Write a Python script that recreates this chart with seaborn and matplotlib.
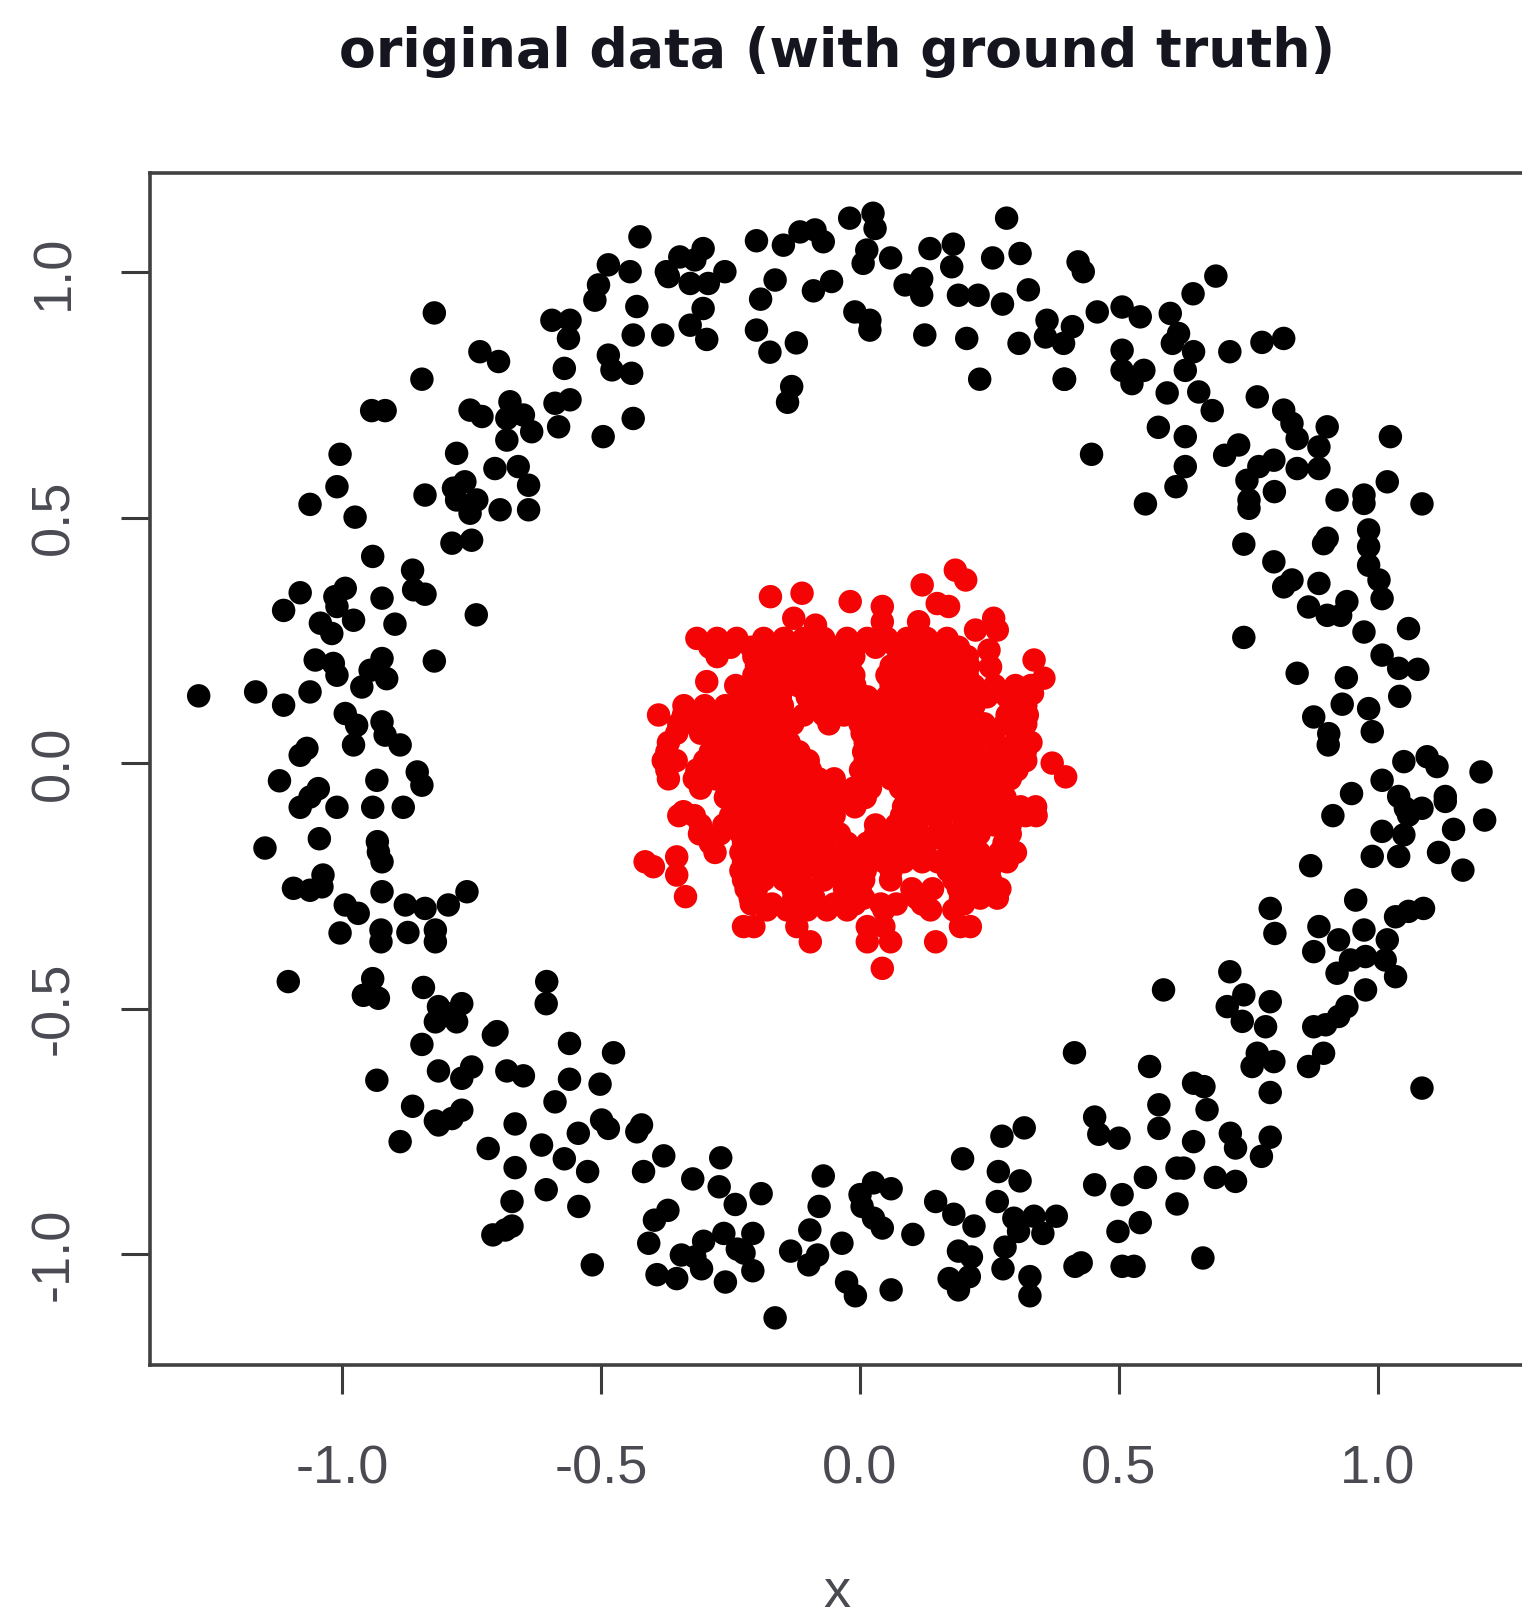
import matplotlib
matplotlib.use('Agg')
import matplotlib.pyplot as plt
import pandas as pd
import seaborn as sns

# outer ring
black_x = [-0.822, -0.846, -0.943, -0.917, -0.734, -0.698, -0.595, -0.560, -0.563, -0.571,
           -0.486, -0.505, -0.512, -0.444, -0.425, -0.431, -0.438, -0.486, -0.479, -0.441,
           -0.496, -0.438, -0.560, -0.589, -0.582, -0.676, -0.682, -0.650, -0.634, -0.682,
           -0.753, -0.730, -1.004, -0.779, -1.010, -1.062, -0.975, -0.840, -0.705, -0.660,
           -0.640, -0.640, -0.785, -0.763, -0.740, -0.753, -0.695, -0.779, -0.788, -0.750,
           -0.941, -0.864, -0.862, -0.840, -0.923, -1.081, -1.113, -0.994, -1.014, -1.010,
           -0.978, -1.042, -1.020, -0.898, -0.741, -1.052, -1.017, -1.010, -0.923, -0.946,
           -0.914, -0.962, -0.822, -1.277, -1.167, -1.113, -1.062, -0.994, -0.972, -0.978,
           -0.923, -0.917, -0.888, -1.068, -1.081, -0.855, -0.846, -1.121, -0.933, -1.046,
           -1.062, -1.081, -1.010, -0.941, -0.882, -1.044, -1.149, -0.932, -0.923, -0.930,
           -1.037, -1.039, -1.062, -1.094, -0.923, -0.759, -0.795, -0.840, -0.878, -0.994,
           -0.969, -1.004, -0.925, -0.925, -0.873, -0.820, -0.820, -1.104, -0.941, -0.959,
           -0.930, -0.843, -0.814, -0.769, -0.820, -0.779, -0.798, -0.605, -0.606, -0.701,
           -0.708, -0.846, -0.561, -0.476, -0.814, -0.750, -0.769, -0.682, -0.650, -0.561,
           -0.502, -0.933, -0.589, -0.864, -0.769, -0.788, -0.820, -0.814, -0.666, -0.499,
           -0.486, -0.544, -0.431, -0.888, -0.718, -0.615,
           -0.571, -0.666, -0.526, -0.606, -0.672, -0.672, -0.709, -0.685, -0.543, -0.517,
           -0.418, -0.379, -0.422, -0.269, -0.323, -0.272, -0.241, -0.191, -0.371, -0.397,
           -0.408, -0.345, -0.392, -0.354, -0.302, -0.263, -0.306, -0.319, -0.260, -0.207,
           -0.224, -0.207, -0.237, -0.071, -0.079, -0.097, -0.134, -0.099, -0.082, -0.035,
           -0.026, -0.009, -0.164, 0.060, 0.026, 0.060, 0.000, 0.004, 0.026, 0.043,
           0.102, 0.198, 0.146, 0.181, 0.220, 0.190, 0.215, 0.211, 0.172, 0.190,
           0.274, 0.317, 0.267, 0.309, 0.265, 0.297, 0.336, 0.379, 0.353, 0.306,
           0.280, 0.276, 0.328, 0.328, 0.427, 0.414, 0.453, 0.461, 0.453,
           0.913, 1.206, 1.146, 1.117, 1.164, 1.008, 1.050, 1.040, 0.989, 1.053,
           1.085, 1.059, 1.130, 0.870, 0.957, 0.792, 0.801, 0.886, 0.876, 1.088,
           1.059, 1.034, 0.973, 0.924, 1.018, 0.976, 0.947, 1.014, 0.921, 1.034,
           0.976, 0.940, 0.924, 0.899, 0.876, 0.714, 0.586, 0.741, 0.709, 0.792,
           0.738, 0.783, 0.767, 0.799, 0.757, 0.895, 0.866, 0.559, 0.792, 1.085,
           0.644, 0.664, 0.577, 0.577, 0.670, 0.500, 0.715, 0.725, 0.792, 0.775,
           0.644, 0.625, 0.612, 0.551, 0.686, 0.725, 0.506, 0.612, 0.541, 0.498,
           0.662, 0.415, 0.506, 0.529,
           0.818, 0.776, 0.714, 0.361, 0.410, 0.358, 0.393, 0.458, 0.506, 0.541,
           0.599, 0.615, 0.603, 0.644, 0.628, 0.506, 0.506, 0.548, 0.525, 0.395,
           0.593, 0.654, 0.680, 0.767, 0.818, 0.834, 0.844, 0.902, 0.886, 1.024,
           0.576, 0.628, 0.731, 0.704, 0.447, 0.628, 0.610, 0.551, 0.799, 0.770,
           0.747, 0.751, 0.751, 0.844, 0.886, 0.800, 1.018, 0.921, 0.973, 0.973,
           1.085, 0.982, 0.982, 0.982, 1.002, 1.008, 0.902, 0.895, 0.741, 0.799,
           0.834, 0.818, 0.886, 0.866, 0.902, 0.928, 0.940, 0.973, 1.059, 0.741,
           1.008, 1.040, 1.077, 0.844, 0.939, 1.042, 0.931, 0.982, 0.989, 0.876,
           0.905, 0.904, 1.050, 1.095, 1.114, 1.199, 1.008, 0.949, 1.040, 1.130,
           -0.348, -0.374, -0.303, -0.261, -0.319, -0.328, -0.293, -0.370, -0.303, -0.328,
           -0.296, -0.381, -0.200, -0.148, -0.116, -0.087, -0.071, -0.020, 0.025, 0.029,
           0.013, 0.006, 0.059, -0.164, -0.192, -0.055, -0.090, -0.010, 0.019, 0.019,
           -0.200, -0.174, -0.123, -0.132, -0.140, 0.283, 0.135, 0.180, 0.177, 0.256,
           0.309, 0.421, 0.431, 0.325, 0.087, 0.119, 0.119, 0.190, 0.228, 0.275,
           0.125, 0.206, 0.307, 0.231, 0.394, 0.687, 0.643]
black_y = [0.917, 0.782, 0.718, 0.718, 0.838, 0.818, 0.902, 0.902, 0.865, 0.804,
           1.015, 0.974, 0.943, 1.001, 1.072, 0.930, 0.872, 0.831, 0.801, 0.794,
           0.665, 0.702, 0.740, 0.733, 0.685, 0.736, 0.702, 0.709, 0.675, 0.658,
           0.719, 0.706, 0.629, 0.631, 0.563, 0.527, 0.501, 0.546, 0.600, 0.604,
           0.566, 0.516, 0.560, 0.573, 0.536, 0.509, 0.516, 0.536, 0.448, 0.454,
           0.421, 0.393, 0.353, 0.344, 0.336, 0.347, 0.311, 0.356, 0.339, 0.319,
           0.291, 0.285, 0.264, 0.283, 0.302, 0.210, 0.203, 0.179, 0.213, 0.189,
           0.172, 0.155, 0.208, 0.137, 0.145, 0.118, 0.145, 0.101, 0.077, 0.037,
           0.084, 0.057, 0.037, 0.030, 0.016, -0.018, -0.045, -0.036, -0.035, -0.052,
           -0.069, -0.090, -0.090, -0.090, -0.090, -0.154, -0.173, -0.160, -0.201, -0.181,
           -0.228, -0.252, -0.259, -0.255, -0.262, -0.262, -0.289, -0.296, -0.289, -0.289,
           -0.306, -0.346, -0.340, -0.364, -0.345, -0.340, -0.364, -0.445, -0.439, -0.473,
           -0.479, -0.457, -0.496, -0.490, -0.527, -0.527, -0.510, -0.445, -0.490, -0.547,
           -0.554, -0.573, -0.571, -0.590, -0.627, -0.619, -0.642, -0.627, -0.637, -0.644,
           -0.654, -0.646, -0.690, -0.699, -0.707, -0.724, -0.729, -0.737, -0.735, -0.727,
           -0.744, -0.754, -0.751, -0.771, -0.785, -0.778,
           -0.806, -0.824, -0.832, -0.869, -0.893, -0.943, -0.961, -0.951, -0.903, -1.022,
           -0.832, -0.800, -0.737, -0.804, -0.847, -0.863, -0.899, -0.877, -0.911, -0.931,
           -0.978, -1.002, -1.042, -1.050, -0.974, -0.958, -1.030, -1.006, -1.057, -0.958,
           -0.998, -1.034, -0.990, -0.841, -0.903, -0.951, -0.994, -1.022, -1.002, -0.978,
           -1.057, -1.085, -1.130, -1.073, -0.855, -0.867, -0.879, -0.903, -0.927, -0.947,
           -0.960, -0.806, -0.893, -0.919, -0.943, -0.994, -1.006, -1.046, -1.050, -1.073,
           -0.760, -0.743, -0.832, -0.851, -0.893, -0.927, -0.923, -0.923, -0.958, -0.954,
           -0.986, -1.030, -1.046, -1.085, -1.018, -0.590, -0.721, -0.756, -0.859,
           -0.107, -0.116, -0.135, -0.182, -0.218, -0.139, -0.146, -0.190, -0.190, -0.092,
           -0.092, -0.106, -0.078, -0.209, -0.279, -0.296, -0.347, -0.333, -0.384, -0.296,
           -0.302, -0.313, -0.340, -0.360, -0.360, -0.394, -0.401, -0.401, -0.428, -0.435,
           -0.462, -0.496, -0.516, -0.533, -0.537, -0.425, -0.462, -0.472, -0.496, -0.486,
           -0.526, -0.537, -0.591, -0.608, -0.618, -0.591, -0.618, -0.618, -0.671, -0.662,
           -0.652, -0.659, -0.696, -0.744, -0.706, -0.764, -0.754, -0.784, -0.762, -0.801,
           -0.771, -0.825, -0.825, -0.844, -0.844, -0.852, -0.879, -0.898, -0.936, -0.954,
           -1.008, -1.025, -1.025, -1.025,
           0.865, 0.857, 0.838, 0.902, 0.889, 0.868, 0.855, 0.919, 0.929, 0.909,
           0.916, 0.875, 0.855, 0.838, 0.800, 0.841, 0.800, 0.800, 0.773, 0.782,
           0.754, 0.756, 0.718, 0.746, 0.719, 0.692, 0.661, 0.685, 0.644, 0.665,
           0.684, 0.665, 0.648, 0.627, 0.629, 0.604, 0.563, 0.528, 0.617, 0.604,
           0.576, 0.536, 0.519, 0.600, 0.600, 0.553, 0.573, 0.536, 0.546, 0.529,
           0.528, 0.475, 0.441, 0.403, 0.373, 0.335, 0.458, 0.447, 0.446, 0.410,
           0.373, 0.359, 0.366, 0.318, 0.301, 0.301, 0.329, 0.267, 0.274, 0.256,
           0.220, 0.193, 0.191, 0.183, 0.174, 0.136, 0.120, 0.111, 0.064, 0.094,
           0.060, 0.037, 0.003, 0.013, -0.007, -0.018, -0.035, -0.062, -0.068, -0.068,
           1.031, 1.001, 1.048, 1.001, 1.025, 0.977, 0.977, 0.991, 0.926, 0.892,
           0.863, 0.872, 1.064, 1.055, 1.082, 1.086, 1.062, 1.110, 1.120, 1.089,
           1.045, 1.018, 1.029, 0.984, 0.945, 0.981, 0.962, 0.919, 0.902, 0.882,
           0.882, 0.837, 0.856, 0.767, 0.735, 1.110, 1.048, 1.057, 1.011, 1.029,
           1.038, 1.021, 1.001, 0.964, 0.974, 0.987, 0.953, 0.953, 0.953, 0.935,
           0.872, 0.865, 0.855, 0.782, 0.782, 0.992, 0.956]

# inner cluster, edge points first
red_x = [-0.173, -0.112, -0.019, 0.043, 0.043, 0.120, 0.184, 0.204, 0.149, 0.171,
         0.258, 0.223, 0.265, 0.249, 0.252, 0.336, 0.355, 0.333, -0.128, -0.086,
         0.113, -0.296, 0.371, 0.397, -0.415, -0.399, -0.354, -0.354, -0.337, -0.341]
red_y = [0.339, 0.346, 0.329, 0.319, 0.288, 0.363, 0.393, 0.373, 0.325, 0.319,
         0.295, 0.271, 0.271, 0.230, 0.196, 0.210, 0.173, 0.142, 0.295, 0.281,
         0.288, 0.166, 0.000, -0.028, -0.201, -0.211, -0.191, -0.228, -0.272, -0.099]

# the dense part, one list of x per row of y
red_row_y = [0.254, 0.236, 0.217, 0.198, 0.179, 0.158, 0.135, 0.117, 0.098, 0.080,
             0.061, 0.042, 0.023, 0.005, -0.014, -0.032, -0.051, -0.070, -0.089, -0.107,
             -0.126, -0.144, -0.163, -0.182, -0.201, -0.219, -0.238, -0.256, -0.275, -0.287,
             -0.299, -0.333, -0.364, -0.418]
red_row_x = [
    [-0.315, -0.276, -0.238, -0.186, -0.147, -0.109, -0.070, -0.025, 0.014, 0.052, 0.091, 0.129, 0.168],
    [-0.290, -0.250, -0.210, -0.170, -0.130, -0.090, -0.050, -0.010, 0.030, 0.070, 0.110, 0.150, 0.190],
    [-0.276, -0.205, -0.167, -0.128, -0.089, -0.051, -0.012, 0.091, 0.129, 0.168, 0.207],
    [-0.200, -0.160, -0.120, -0.080, -0.040, -0.020, 0.060, 0.100, 0.140, 0.180, 0.210],
    [-0.205, -0.167, -0.128, -0.089, -0.051, -0.012, 0.052, 0.091, 0.129, 0.168, 0.207],
    [-0.240, -0.200, -0.160, -0.120, -0.080, -0.040, -0.010, 0.060, 0.100, 0.140, 0.180, 0.220, 0.260, 0.300, 0.330],
    [-0.231, -0.192, -0.154, -0.102, -0.064, -0.025, 0.014, 0.052, 0.091, 0.129, 0.168, 0.207, 0.245, 0.284, 0.323],
    [-0.340, -0.300, -0.260, -0.220, -0.180, -0.150, -0.090, -0.050, -0.020, 0.020, 0.060, 0.100, 0.140, 0.180, 0.220, 0.300, 0.320],
    [-0.389, -0.341, -0.302, -0.263, -0.225, -0.186, -0.147, -0.109, -0.070, -0.031, 0.010, 0.052, 0.091, 0.129, 0.168, 0.207, 0.284, 0.323],
    [-0.350, -0.320, -0.280, -0.240, -0.200, -0.160, -0.130, -0.060, 0.000, 0.040, 0.080, 0.120, 0.160, 0.200, 0.240, 0.280, 0.320],
    [-0.354, -0.308, -0.270, -0.231, -0.192, -0.154, -0.145, 0.004, 0.026, 0.065, 0.104, 0.142, 0.181, 0.220, 0.258, 0.303],
    [-0.370, -0.270, -0.230, -0.190, -0.150, -0.137, 0.010, 0.040, 0.080, 0.110, 0.145, 0.180, 0.220, 0.260, 0.300, 0.330],
    [-0.373, -0.289, -0.250, -0.212, -0.173, -0.135, -0.118, 0.007, 0.046, 0.084, 0.130, 0.181, 0.220, 0.265, 0.319],
    [-0.380, -0.355, -0.300, -0.260, -0.220, -0.180, -0.140, -0.100, 0.010, 0.050, 0.090, 0.130, 0.170, 0.210, 0.250, 0.290, 0.320],
    [-0.373, -0.315, -0.276, -0.238, -0.199, -0.160, -0.122, -0.096, 0.001, 0.039, 0.078, 0.117, 0.155, 0.194, 0.232, 0.271, 0.303],
    [-0.370, -0.320, -0.280, -0.240, -0.200, -0.160, -0.120, -0.080, -0.050, 0.020, 0.060, 0.100, 0.140, 0.180, 0.220, 0.260, 0.290],
    [-0.308, -0.257, -0.218, -0.180, -0.141, -0.102, -0.064, -0.012, 0.020, 0.078, 0.117, 0.155, 0.194, 0.232, 0.271],
    [-0.260, -0.220, -0.180, -0.140, -0.100, -0.060, -0.030, 0.010, 0.090, 0.130, 0.170, 0.210, 0.250, 0.280],
    [-0.244, -0.205, -0.167, -0.128, -0.089, -0.051, -0.010, 0.084, 0.123, 0.162, 0.200, 0.239, 0.278, 0.310, 0.339],
    [-0.350, -0.320, -0.250, -0.210, -0.170, -0.130, -0.090, -0.050, 0.080, 0.120, 0.160, 0.200, 0.240, 0.280, 0.320, 0.340],
    [-0.308, -0.263, -0.225, -0.186, -0.147, -0.109, -0.070, 0.030, 0.070, 0.110, 0.155, 0.200, 0.220, 0.260, 0.290],
    [-0.310, -0.270, -0.230, -0.190, -0.150, -0.110, -0.070, -0.040, 0.030, 0.070, 0.110, 0.150, 0.190, 0.230, 0.290],
    [-0.289, -0.225, -0.186, -0.147, -0.109, -0.070, -0.025, 0.014, 0.052, 0.091, 0.129, 0.168, 0.207, 0.278],
    [-0.280, -0.230, -0.190, -0.150, -0.110, -0.070, -0.030, 0.010, 0.050, 0.090, 0.120, 0.190, 0.230, 0.270, 0.300],
    [-0.225, -0.186, -0.147, -0.109, -0.070, -0.031, 0.007, 0.046, 0.084, 0.120, 0.150, 0.181, 0.220, 0.258, 0.284],
    [-0.230, -0.190, -0.150, -0.110, -0.070, -0.030, 0.010, 0.060, 0.170, 0.210, 0.250],
    [-0.225, -0.186, -0.147, -0.070, -0.031, 0.007, 0.059, 0.181, 0.213, 0.252],
    [-0.220, -0.200, -0.130, -0.100, -0.030, 0.000, 0.100, 0.140, 0.190, 0.230, 0.270],
    [-0.212, -0.128, -0.089, -0.025, 0.007, 0.110, 0.194, 0.232, 0.265],
    [-0.210, -0.170, -0.130, -0.090, -0.050, -0.010, 0.040, 0.070, 0.120, 0.200],
    [-0.180, -0.141, -0.102, -0.064, -0.025, 0.046, 0.136, 0.181],
    [-0.225, -0.205, -0.122, 0.014, 0.046, 0.213, 0.194],
    [-0.096, 0.014, 0.059, 0.146],
    [0.043],
]
red_row_x_flat = [x for row in red_row_x for x in row]
red_row_y_flat = [y for y, row in zip(red_row_y, red_row_x) for _ in row]

x_ticks = [-1.0, -0.5, 0.0, 0.5, 1.0]
y_ticks = [-1.0, -0.5, 0.0, 0.5, 1.0]

sns.set_style('white')
plt.rcParams['font.family'] = ['Liberation Sans', 'DejaVu Sans']

df = pd.DataFrame({
    'x': black_x + red_x + red_row_x_flat,
    'y': black_y + red_y + red_row_y_flat,
    'truth': ['outer'] * len(black_x) + ['inner'] * (len(red_x) + len(red_row_x_flat)),
})

fig = plt.figure(figsize=(15.22, 16.16), dpi=100)
# the frame runs just past the right edge of the image
ax = fig.add_axes([150 / 1522, (1616 - 1365) / 1616, 1374 / 1522, 1192 / 1616])

sns.scatterplot(data=df, x='x', y='y', hue='truth',
                palette={'outer': '#000000', 'inner': '#f40404'},
                s=285, linewidth=0, legend=False, ax=ax)

ax.set_xlim(-1.371, 1.282)
ax.set_ylim(-1.226, 1.202)
ax.set_xticks(x_ticks)
ax.set_yticks(y_ticks)
ax.set_xticklabels(['-1.0', '-0.5', '0.0', '0.5', '1.0'])
ax.set_yticklabels(['-1.0', '-0.5', '0.0', '0.5', '1.0'], rotation=90, va='center')

ax.tick_params(axis='both', bottom=True, left=True, length=21, width=2.2, color='#3a3a3a',
               labelcolor='#4a4a52', labelsize=39)
ax.tick_params(axis='x', pad=36)
ax.tick_params(axis='y', pad=30)
for spine in ax.spines.values():
    spine.set_linewidth(2.6)
    spine.set_color('#404040')

ax.set_title('original data (with ground truth)', fontsize=38.7, fontweight='bold',
             family='DejaVu Sans', color='#15151f', pad=76)
ax.set_xlabel('x', fontsize=39, color='#4a4a52', labelpad=53)
ax.set_ylabel('')

plt.savefig('out.png', dpi=100)
